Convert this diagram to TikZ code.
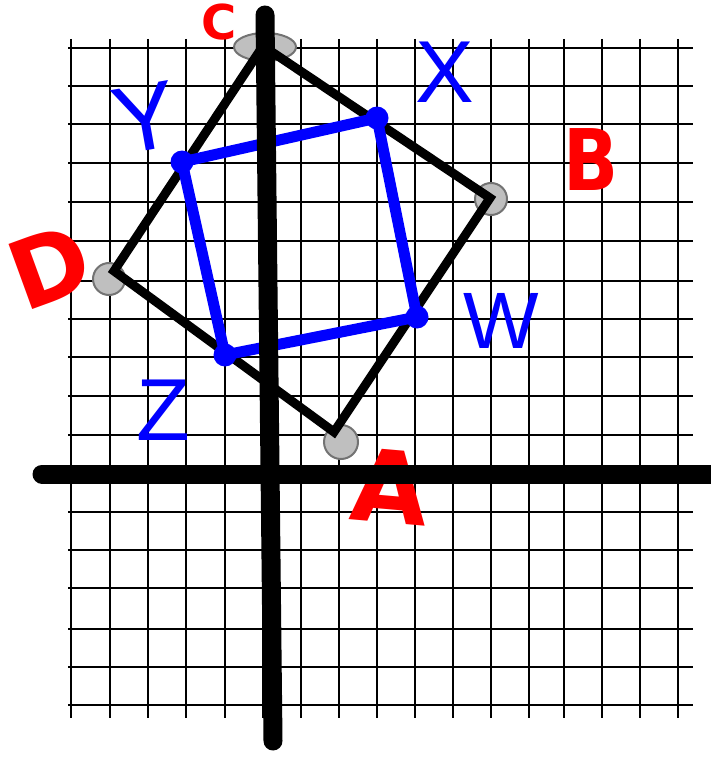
\documentclass[tikz,border=0pt]{standalone}
\usepackage{fontspec}
\usetikzlibrary{shapes.geometric}
\setmainfont{DejaVu Sans}
\newfontfamily\bluefont{Liberation Sans}
\begin{document}
\begin{tikzpicture}[x=1pt,y=-1pt,
  gridline/.style={line width=2pt,black},
  axisline/.style={line width=19pt,black,line cap=round},
  sqline/.style={line width=9pt,black,line join=miter},
  bsqline/.style={line width=11pt,blue,line join=round},
  vtx/.style={circle,draw=black!55,line width=2pt,fill=black!25,minimum size=32pt,inner sep=0pt},
  bdot/.style={circle,fill=blue,minimum size=23pt,inner sep=0pt},
  redlab/.style={text=red,inner sep=0pt,font=\bfseries\fontsize{#1}{#1}\selectfont},
  bluelab/.style={text=blue,inner sep=0pt,font=\bluefont\fontsize{#1}{#1}\selectfont}]
\useasboundingbox (0,0) rectangle (711,757);
% grid
\foreach \gx in {71,110,148,186,225,263,301,339,377,415,453,491,529,564,602,640,678}
  \draw[gridline] (\gx,39) -- (\gx,718);
\foreach \gy in {48,86,124,163,202,241,281,319,357,396,435,473,512,550,588,629,667,705}
  \draw[gridline] (68,\gy) -- (693,\gy);
% vertex markers
\node[vtx,ellipse,minimum width=62pt,minimum height=28pt] (cC) at (265,47) {};
\node[vtx] (cB) at (491,199) {};
\node[vtx] (cD) at (109,279) {};
\node[vtx,minimum size=34pt] (cA) at (341,442) {};
% square ABCD
\coordinate (C) at (263,46);
\coordinate (B) at (490,198);
\coordinate (A) at (334,432);
\coordinate (D) at (114,271);
\draw[sqline] (C) -- (B) -- (A) -- (D) -- cycle;
% square XYZW
\coordinate (X) at (377,118);
\coordinate (W) at (417,317);
\coordinate (Z) at (225,355);
\coordinate (Y) at (182,162);
\draw[bsqline] (X) -- (W) -- (Z) -- (Y) -- cycle;
\foreach \p in {X,W,Z,Y} \node[bdot] (d\p) at (\p) {};
% labels
\node[redlab=48,anchor=north] (lC) at (219,4) {C};
\node[redlab=85,xscale=0.85] (lB) at (591,160) {B};
\node[redlab=95,rotate=20] (lD) at (50,266) {D};
\node[redlab=100,rotate=-5] (lA) at (390,487) {A};
\node[bluelab=88] (lX) at (445,72) {X};
\node[bluelab=95,rotate=10] (lY) at (145,118) {Y};
\node[bluelab=88] (lZ) at (163,410) {Z};
\node[bluelab=80] (lW) at (501,321) {W};
% axes
\coordinate (xl) at (42,474);
\coordinate (xr) at (740,474);
\coordinate (yt) at (265,15);
\coordinate (yb) at (273,741);
\draw[axisline] (xl) -- (xr);
\draw[axisline] (yt) -- (yb);
\end{tikzpicture}
\end{document}
